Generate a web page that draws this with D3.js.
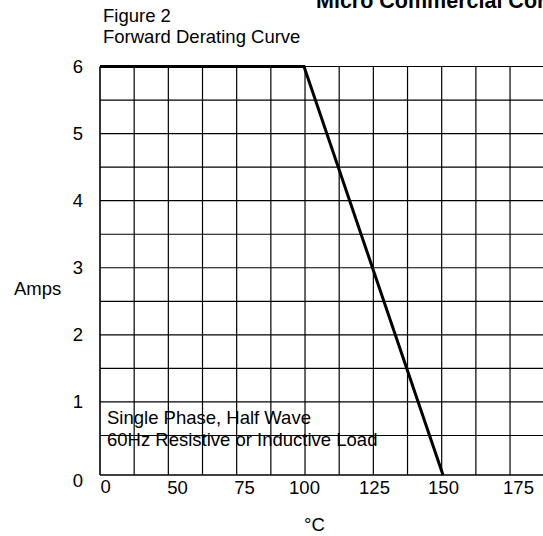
<!DOCTYPE html>
<html>
<head>
<meta charset="utf-8">
<script src="https://cdn.jsdelivr.net/npm/d3@7/dist/d3.min.js"></script>
<style>
  body { margin: 0; background: #fff; }
  svg { display: block; font-family: "Liberation Sans", Arial, sans-serif; }
</style>
</head>
<body>
<div id="chart"></div>
<script>
const width = 543;
const height = 536;

// axis labels as printed on the sheet
const tempTicks = [0, 50, 75, 100, 125, 150, 175];
const ampTicks = [0, 1, 2, 3, 4, 5, 6];

// derating curve: case temperature (°C) vs average forward current (A)
const curveTemp = [0, 100, 150];
const curveAmps = [6, 6, 0];

const noteLines = ["Single Phase, Half Wave", "60Hz Resistive or Inductive Load"];

const plotLeft = 100;
const plotBottom = 475;
const plotTop = 66.5;
const gridCols = 12;
const cell = 34.17;

const svg = d3
  .select("#chart")
  .append("svg")
  .attr("width", width)
  .attr("height", height);

// the printed tick labels are not evenly spaced, so the scale follows them
const x = d3
  .scaleLinear()
  .domain(tempTicks)
  .range([0, 77, 144, 204, 274, 343, 418].map((d) => plotLeft + d));

// bottom row of the grid is a little taller than the others
const y = d3
  .scaleLinear()
  .domain([0, 0.5, 6])
  .range([plotBottom, 435.5, plotTop]);

const gridX = d3
  .scaleLinear()
  .domain([0, gridCols])
  .range([plotLeft, plotLeft + gridCols * cell]);

// grid
svg
  .append("g")
  .selectAll("line")
  .data(d3.range(0, gridCols + 1))
  .enter()
  .append("line")
  .attr("x1", (d) => gridX(d))
  .attr("x2", (d) => gridX(d))
  .attr("y1", plotTop)
  .attr("y2", plotBottom)
  .attr("stroke", "#000")
  .attr("stroke-width", (d) => (d === 0 ? 1.6 : 1.2));

svg
  .append("g")
  .selectAll("line")
  .data(d3.range(0, 6.5, 0.5))
  .enter()
  .append("line")
  .attr("x1", plotLeft)
  .attr("x2", width)
  .attr("y1", (d) => y(d))
  .attr("y2", (d) => y(d))
  .attr("stroke", "#000")
  .attr("stroke-width", (d) => (d === 0 ? 1.6 : 1.2));

// axes (labels only, the grid carries the lines)
const xAxis = svg
  .append("g")
  .attr("transform", `translate(0, ${plotBottom})`)
  .call(
    d3
      .axisBottom(x)
      .tickValues(tempTicks)
      .tickFormat(d3.format("d"))
      .tickSize(0)
      .tickPadding(6)
  );

xAxis.select(".domain").remove();
xAxis
  .selectAll("text")
  .attr("font-size", 18.5)
  .attr("font-family", "Liberation Sans, Arial, sans-serif")
  .attr("fill", "#000")
  .attr("text-anchor", (d) => (d === 0 ? "start" : "middle"))
  .attr("dy", (d) => (d === 0 ? "0.63em" : "0.71em"));

const yAxis = svg
  .append("g")
  .attr("transform", `translate(${plotLeft}, 0)`)
  .call(
    d3
      .axisLeft(y)
      .tickValues(ampTicks)
      .tickFormat(d3.format("d"))
      .tickSize(0)
      .tickPadding(17)
  );

yAxis.select(".domain").remove();
yAxis
  .selectAll("text")
  .attr("font-size", 18.5)
  .attr("font-family", "Liberation Sans, Arial, sans-serif")
  .attr("fill", "#000")
  .attr("dy", (d) => (d === 0 ? "0.6em" : "0.32em"));

// curve
const line = d3
  .line()
  .x((d) => x(d[0]))
  .y((d) => y(d[1]));

svg
  .append("path")
  .datum(d3.zip(curveTemp, curveAmps))
  .attr("d", line)
  .attr("fill", "none")
  .attr("stroke", "#000")
  .attr("stroke-width", 3)
  .attr("stroke-linejoin", "miter");

// texts
svg
  .append("text")
  .attr("x", 316)
  .attr("y", 8)
  .attr("font-size", 21.5)
  .attr("font-weight", "bold")
  .text("Micro Commercial Corp");

svg
  .append("text")
  .attr("x", 103)
  .attr("y", 21.5)
  .attr("font-size", 18.5)
  .text("Figure 2");

svg
  .append("text")
  .attr("x", 103)
  .attr("y", 42.5)
  .attr("font-size", 18.5)
  .text("Forward Derating Curve");

svg
  .append("text")
  .attr("x", 14)
  .attr("y", 295)
  .attr("font-size", 18.5)
  .text("Amps");

svg
  .append("text")
  .attr("x", 304)
  .attr("y", 531)
  .attr("font-size", 18.5)
  .text("°C");

svg
  .append("g")
  .selectAll("text")
  .data(noteLines)
  .enter()
  .append("text")
  .attr("x", 107)
  .attr("y", (d, i) => 424 + i * 21.5)
  .attr("font-size", 18.5)
  .text((d) => d);
</script>
</body>
</html>
